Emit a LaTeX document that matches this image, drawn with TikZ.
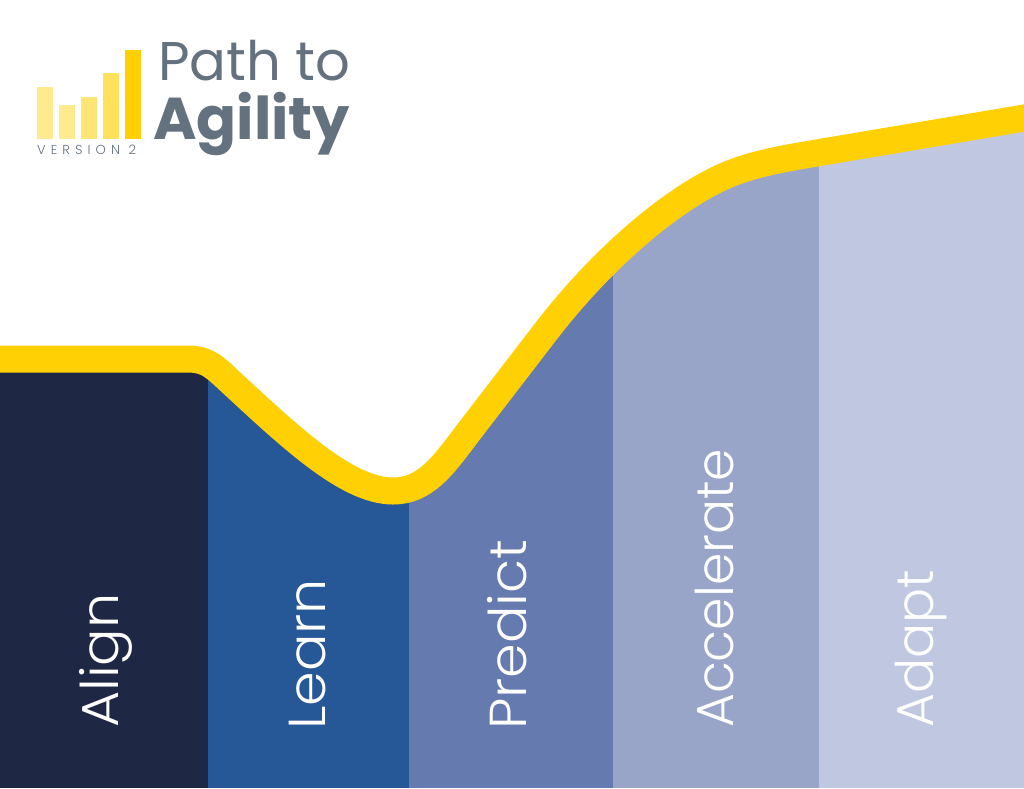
\documentclass[tikz,border=0pt]{standalone}
\usepackage{fontspec}
\setmainfont{Poppins}
\newfontfamily\lightfont[UprightFont=* Light]{Poppins}
\newfontfamily\widefont[UprightFont=* Light,FakeStretch=1.07]{Poppins}
\newfontfamily\versionfont[UprightFont=* Light,LetterSpace=39]{Poppins}
\definecolor{agilityyellow}{HTML}{FFD105}
\definecolor{logogrey}{HTML}{64717F}
\definecolor{alignblue}{HTML}{1E2844}
\definecolor{learnblue}{HTML}{265797}
\definecolor{predictblue}{HTML}{657AAF}
\definecolor{accelerateblue}{HTML}{98A5C9}
\definecolor{adaptblue}{HTML}{C0C8E1}
\newcommand{\agilitycurve}{(-5,359) -- (188,359) .. controls (203,359) and (211,364) .. (221,373) .. controls (285,432) and (345,491) .. (393,491) .. controls (425,491) and (443,466) .. (467,434) -- (547,330) .. controls (605,255) and (675,197) .. (727,175) .. controls (755,163) and (789,157.7) .. (819,152.6) -- (1030,117)}
\tikzset{
    stage/.style={text=white,rotate=90,anchor=base west,font=\lightfont\fontsize{52}{52}\selectfont,inner sep=0pt},
    widestage/.style={stage,font=\widefont\fontsize{52}{52}\selectfont},
    logotext/.style={anchor=base west,inner sep=0pt,text=logogrey},
    bar/.style={fill=agilityyellow}
}
\begin{document}
\begin{tikzpicture}[x=1pt,y=-1pt]
    \useasboundingbox[fill=white] (0,0) rectangle (1024,788);

    \begin{scope}
        \clip \agilitycurve -- (1030,788) -- (-5,788) -- cycle;
        \fill[alignblue] (0,300) rectangle (208,788);
        \fill[learnblue] (208,300) rectangle (409,788);
        \fill[predictblue] (409,200) rectangle (613,788);
        \fill[accelerateblue] (613,100) rectangle (819,788);
        \fill[adaptblue] (819,100) rectangle (1024,788);
    \end{scope}
    \draw[agilityyellow,line width=27pt] \agilitycurve;

    \node[widestage] (Align) at (118,728) {Align};
    \node[widestage] (Learn) at (325,730) {Learn};
    \node[widestage] (Predict) at (526,730) {Predict};
    \node[stage] (Accelerate) at (733,728) {Accelerate};
    \node[stage] (Adapt) at (933,728) {Adapt};

    \fill[bar,opacity=0.45] (37,87) rectangle (53,139);
    \fill[bar,opacity=0.45] (59,105) rectangle (75,139);
    \fill[bar,opacity=0.55] (81,97) rectangle (97,139);
    \fill[bar,opacity=0.65] (103,73) rectangle (119,139);
    \fill[bar] (125,50) rectangle (141,139);

    \node[logotext,font=\versionfont\fontsize{13}{13}\selectfont] (Version) at (37,154) {VERSION 2};
    \node[logotext,font=\fontsize{54.5}{54.5}\selectfont] (Path) at (158,80) {Path to};
    \node[logotext,font=\bfseries\fontsize{59}{59}\selectfont] (Agility) at (153,139) {Agility};
\end{tikzpicture}
\end{document}
